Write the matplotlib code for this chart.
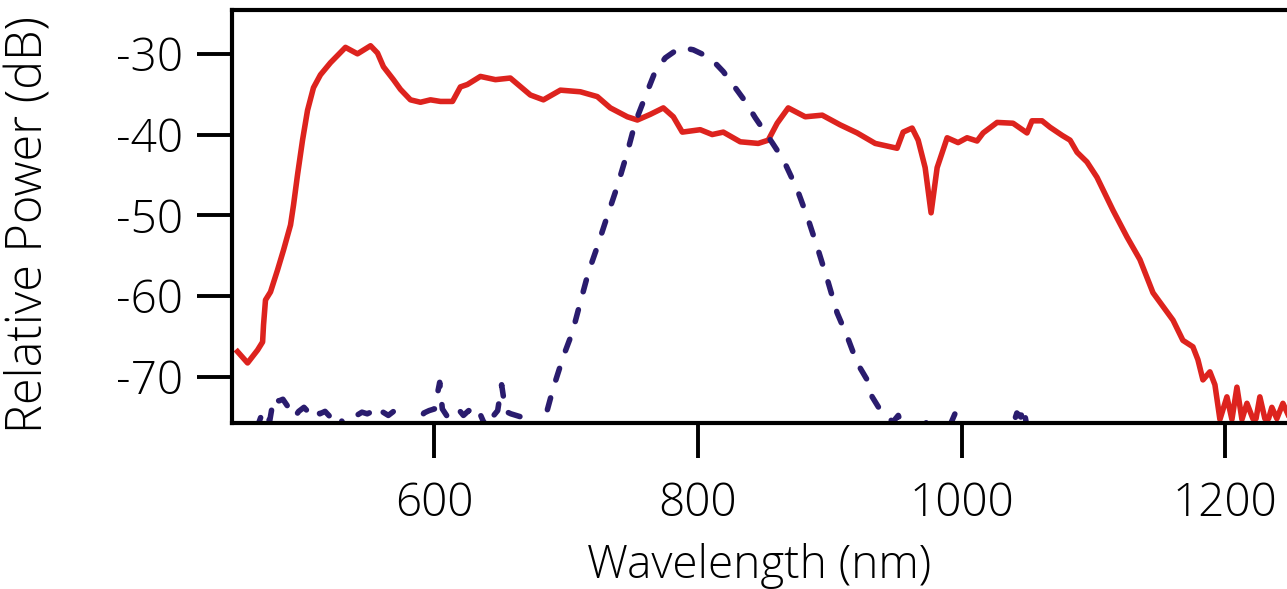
import matplotlib
matplotlib.use("Agg")
import matplotlib.pyplot as plt

plt.rcParams['font.family'] = ['Open Sans', 'DejaVu Sans']
plt.rcParams['font.weight'] = 'light'
plt.rcParams['axes.labelweight'] = 'light'
plt.rcParams['axes.unicode_minus'] = False

# red: supercontinuum spectrum
red_nm = [450.6, 458.2, 465.8, 469.6, 470.3, 471.8, 475.6, 480.9, 485.5, 490.8,
          493.1, 496.1, 499.9, 503.7, 508.2, 513.5, 521.1, 532.5, 541.6, 551.5,
          556.8, 561.3, 568.9, 574.2, 581.8, 589.4, 597.0, 604.6, 613.7, 619.7,
          625.0, 634.9, 646.3, 657.6, 672.8, 682.7, 695.6, 710.7, 723.6, 733.5,
          746.4, 754.0, 763.8, 773.7, 781.3, 788.1, 801.7, 810.8, 819.2, 832.1,
          845.7, 853.3, 860.1, 868.5, 881.4, 894.3, 907.9, 920.8, 934.5, 951.1,
          955.7, 962.5, 967.1, 972.4, 976.9, 981.5, 989.1, 997.4, 1004.2, 1011.8,
          1016.4, 1027.0, 1039.1, 1049.7, 1053.5, 1061.1, 1067.2, 1076.3, 1082.4, 1087.7,
          1095.2, 1102.8, 1115.0, 1125.6, 1135.4, 1145.3, 1160.5, 1168.0, 1175.6, 1179.4,
          1183.2, 1188.5, 1192.3, 1196.1, 1201.4, 1205.2, 1209.0, 1212.8, 1216.6, 1221.1,
          1223.5, 1226.4, 1230.2, 1233.0, 1235.5, 1239.3, 1243.9, 1249.2]
red_db = [-66.9, -68.3, -66.7, -65.7, -63.6, -60.5, -59.5, -56.8, -54.3, -51.2,
          -48.7, -45.0, -40.7, -37.0, -34.2, -32.6, -31.1, -29.2, -30.0, -29.0,
          -29.9, -31.6, -33.2, -34.4, -35.7, -36.0, -35.7, -35.9, -35.9, -34.1,
          -33.8, -32.8, -33.2, -33.0, -35.1, -35.7, -34.5, -34.7, -35.3, -36.7,
          -37.8, -38.2, -37.5, -36.7, -37.8, -39.7, -39.4, -40.0, -39.7, -40.9,
          -41.1, -40.7, -38.6, -36.7, -37.8, -37.6, -38.8, -39.8, -41.1, -41.7,
          -39.7, -39.2, -40.7, -44.1, -49.7, -44.1, -40.4, -41.0, -40.4, -40.8,
          -39.8, -38.5, -38.6, -39.8, -38.3, -38.3, -39.1, -40.1, -40.7, -42.2,
          -43.4, -45.3, -49.4, -52.7, -55.5, -59.6, -63.0, -65.5, -66.3, -67.9,
          -70.4, -69.4, -71.0, -75.3, -72.5, -75.3, -71.3, -75.3, -73.3, -75.2,
          -75.2, -72.5, -75.2, -75.2, -73.8, -75.2, -73.3, -75.2]

# blue: pump spectrum (dashed)
blue_nm = [465, 470, 475, 478, 482, 485, 490, 494, 497, 501,
           505, 509, 513, 517, 521, 525, 529, 533, 537, 541,
           545, 549, 553, 557, 561, 565, 569, 573, 577, 581,
           585, 589, 592, 596, 600, 604, 606, 610, 614, 618,
           622, 626, 630, 633, 637, 641, 645, 648, 651, 654,
           658, 662, 666, 670, 674, 678, 681, 684.2, 690.2, 697.8,
           704.7, 710.7, 716.8, 723.6, 731.2, 738.8, 746.4, 752.4, 760.0, 767.5,
           775.2, 786.6, 796.4, 809.3, 819.2, 828.3, 835.9, 843.4, 856.3, 864.7,
           875.3, 883.6, 891.2, 898.8, 905.6, 913.2, 920.8, 928.4, 932.2, 938.2,
           943.6, 948, 952, 956, 966, 971, 975, 990, 995, 999,
           1038, 1042, 1045, 1047, 1050]
blue_db = [-76.5, -74.2, -75.5, -72.6, -73.0, -72.8, -74.0, -75.0, -74.3, -73.8,
           -74.5, -73.9, -74.6, -74.3, -75.0, -74.5, -75.3, -76.5, -76.5, -74.8,
           -74.4, -74.6, -74.3, -75.0, -74.4, -74.8, -74.3, -75.2, -76.5, -76.5,
           -76.5, -75.3, -74.5, -74.2, -74.0, -70.7, -74.0, -75.0, -74.5, -74.0,
           -74.8, -74.2, -74.5, -74.0, -75.5, -76.5, -74.8, -74.2, -71.0, -74.3,
           -74.6, -74.8, -75.0, -74.9, -76.5, -76.5, -75.2, -75.0, -71.4, -67.5,
           -64.5, -60.8, -57.1, -53.9, -50.1, -46.4, -42.2, -38.5, -35.3, -32.2,
           -30.5, -29.2, -29.5, -30.5, -32.2, -34.2, -35.9, -37.9, -41.0, -43.1,
           -46.8, -50.5, -54.3, -58.3, -62.1, -65.0, -68.3, -70.4, -72.5, -74.1,
           -75.0, -75.6, -74.8, -76.5, -76.5, -74.8, -76.5, -76.5, -74.6, -76.5,
           -76.5, -74.5, -75.0, -73.8, -76.5]

xticks = [600, 800, 1000, 1200]
yticks = [-30, -40, -50, -60, -70]

fig = plt.figure(figsize=(12.87, 5.89), dpi=100)
ax = fig.add_axes([231.5 / 1287, 1 - 423 / 589, 1 - 231.5 / 1287, 413 / 589])

ax.plot(red_nm, red_db, color='#dd231e', lw=4.0, solid_joinstyle='round')
ax.plot(blue_nm, blue_db, color='#2a1c6e', lw=4.0, dashes=(2.2, 3.35),
        dash_capstyle='round')

ax.set_xlim(446, 1247)
ax.set_ylim(-75.74, -24.57)
ax.set_xticks(xticks)
ax.set_yticks(yticks)
ax.tick_params(direction='out', length=25, width=2.8, labelsize=33, pad=10)
ax.tick_params(axis='x', pad=17)
ax.spines['right'].set_visible(False)
for s in ['left', 'top', 'bottom']:
    ax.spines[s].set_linewidth(3)

ax.set_xlabel('Wavelength (nm)', fontsize=33, labelpad=11)
ax.set_ylabel('Relative Power (dB)', fontsize=35)
ax.yaxis.set_label_coords(-0.168, 0.48)

fig.savefig('out.png', dpi=100)
